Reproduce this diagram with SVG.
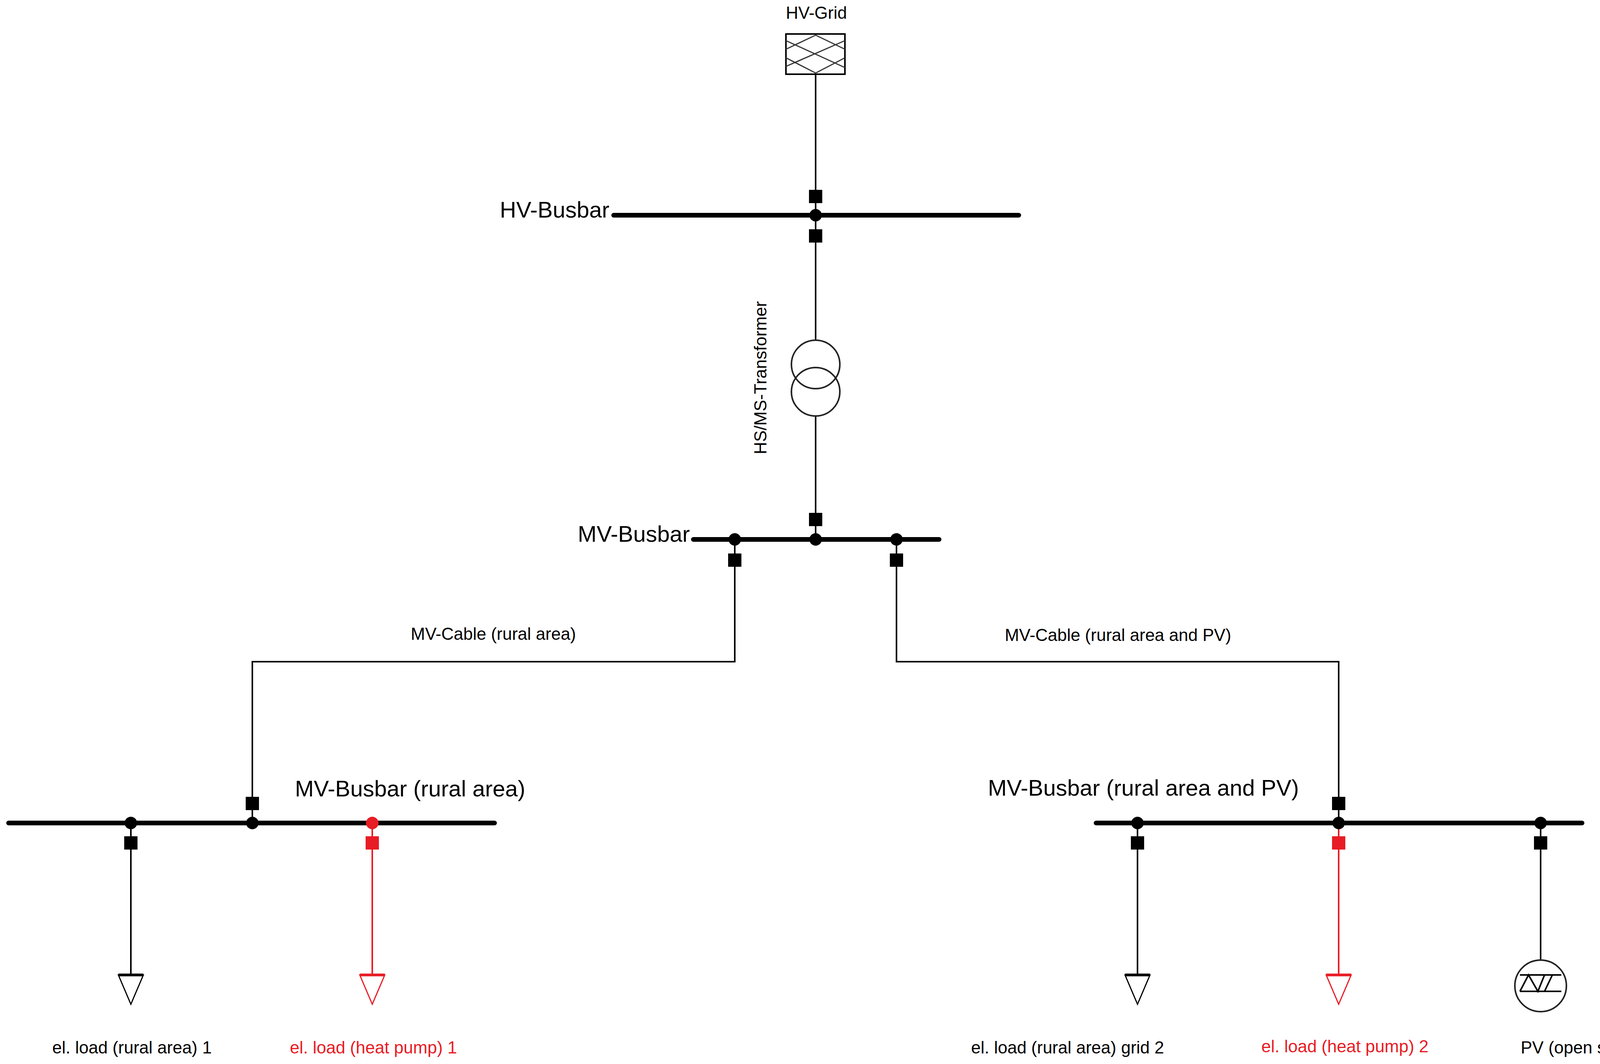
<svg xmlns="http://www.w3.org/2000/svg" width="4382" height="2724" viewBox="0 0 4382 2724">
<style>
text{font-family:"Liberation Sans",Arial,sans-serif;fill:#000}
.big{font-size:58px}
.sm{font-size:44px}
.red{fill:#e81c24}
.bus{stroke:#000;stroke-width:12;stroke-linecap:round}
.ln{stroke:#000;stroke-width:4;fill:none}
.rln{stroke:#e81c24;stroke-width:4;fill:none}
.sw{fill:#000}
.rsw{fill:#e81c24}
</style>
<defs>
<rect id="sq" x="-17" y="-17" width="34" height="34"/>
<g id="load"><path d="M-32 0 L32 0 L0 75 Z" fill="#fff" stroke-width="3"/><line x1="-32" y1="0" x2="32" y2="0" stroke-width="7"/></g>
</defs>
<g id="connectors">
<line class="ln" x1="2088" y1="190" x2="2088" y2="869"/>
<line class="ln" x1="2088" y1="1065" x2="2088" y2="1381"/>
<polyline class="ln" points="1881,1381 1881,1694 646,1694 646,2107"/>
<polyline class="ln" points="2295,1381 2295,1694 3427,1694 3427,2107"/>
<line class="ln" x1="335" y1="2107" x2="335" y2="2496"/>
<line class="rln" x1="953" y1="2107" x2="953" y2="2496"/>
<line class="ln" x1="2912" y1="2107" x2="2912" y2="2496"/>
<line class="rln" x1="3427" y1="2107" x2="3427" y2="2496"/>
<line class="ln" x1="3944" y1="2107" x2="3944" y2="2457"/>
</g>
<g id="hv-grid">
<text class="sm" x="2090" y="48" text-anchor="middle">HV-Grid</text>
<rect x="2012" y="87" width="151" height="103" fill="#fff" stroke="#000" stroke-width="4"/>
<path d="M2012 104 L2163 173 M2012 148 L2088 187 M2012 126 L2088 90 M2012 170 L2163 104 M2088 90 L2163 126 M2088 187 L2163 148" stroke="#333" stroke-width="3" fill="none"/>
</g>
<g id="hv-busbar">
<line class="bus" x1="1571" y1="551" x2="2608" y2="551"/>
<text class="big" x="1560" y="557" text-anchor="end">HV-Busbar</text>
<use href="#sq" x="2088" y="503" class="sw"/>
<use href="#sq" x="2088" y="604" class="sw"/>
<circle cx="2088" cy="551" r="16"/>
</g>
<g id="transformer">
<circle cx="2088" cy="933" r="62" fill="none" stroke="#222" stroke-width="4"/>
<circle cx="2088" cy="1003" r="62" fill="none" stroke="#222" stroke-width="4"/>
<text class="sm" transform="translate(1962 967) rotate(-90)" text-anchor="middle">HS/MS-Transformer</text>
</g>
<g id="mv-busbar">
<line class="bus" x1="1775" y1="1381" x2="2404" y2="1381"/>
<text class="big" x="1766" y="1387" text-anchor="end">MV-Busbar</text>
<use href="#sq" x="2088" y="1330" class="sw"/>
<use href="#sq" x="1881" y="1434" class="sw"/>
<use href="#sq" x="2295" y="1434" class="sw"/>
<circle cx="1881" cy="1381" r="16"/><circle cx="2088" cy="1381" r="16"/><circle cx="2295" cy="1381" r="16"/>
</g>
<g id="cable-labels">
<text class="sm" x="1263" y="1638" text-anchor="middle">MV-Cable (rural area)</text>
<text class="sm" x="2862" y="1641" text-anchor="middle">MV-Cable (rural area and PV)</text>
</g>
<g id="mv-busbar-rural">
<line class="bus" x1="22" y1="2107" x2="1266" y2="2107"/>
<text class="big" x="755" y="2039">MV-Busbar (rural area)</text>
<use href="#sq" x="646" y="2057" class="sw"/>
<use href="#sq" x="335" y="2158" class="sw"/>
<use href="#sq" x="953" y="2158" class="rsw"/>
<circle cx="335" cy="2107" r="16"/><circle cx="646" cy="2107" r="16"/><circle cx="953" cy="2107" r="16" fill="#e81c24"/>
</g>
<g id="mv-busbar-pv">
<line class="bus" x1="2806" y1="2107" x2="4050" y2="2107"/>
<text class="big" x="2529" y="2037">MV-Busbar (rural area and PV)</text>
<use href="#sq" x="3427" y="2057" class="sw"/>
<use href="#sq" x="2912" y="2158" class="sw"/>
<use href="#sq" x="3427" y="2158" class="rsw"/>
<use href="#sq" x="3944" y="2158" class="sw"/>
<circle cx="2912" cy="2107" r="16"/><circle cx="3427" cy="2107" r="16"/><circle cx="3944" cy="2107" r="16"/>
</g>
<g id="load1"><use href="#load" x="335" y="2496" stroke="#000"/><text class="sm" x="338" y="2697" text-anchor="middle">el. load (rural area) 1</text></g>
<g id="hp1"><use href="#load" x="953" y="2496" stroke="#e81c24"/><text class="sm red" x="956" y="2697" text-anchor="middle">el. load (heat pump) 1</text></g>
<g id="load2"><use href="#load" x="2912" y="2496" stroke="#000"/><text class="sm" x="2733" y="2697" text-anchor="middle">el. load (rural area) grid 2</text></g>
<g id="hp2"><use href="#load" x="3427" y="2496" stroke="#e81c24"/><text class="sm red" x="3443" y="2694" text-anchor="middle">el. load (heat pump) 2</text></g>
<g id="pv">
<circle cx="3944" cy="2524" r="66" fill="#fff" stroke="#222" stroke-width="4"/>
<path d="M3891 2496 H3997 M3891 2538 H3997 M3891 2538 L3913 2496 L3937 2538 L3954 2496 M3954 2538 L3974 2496" stroke="#000" stroke-width="4" fill="none"/>
<text class="sm" x="3893" y="2697">PV (open space facility)</text>
</g>
</svg>
